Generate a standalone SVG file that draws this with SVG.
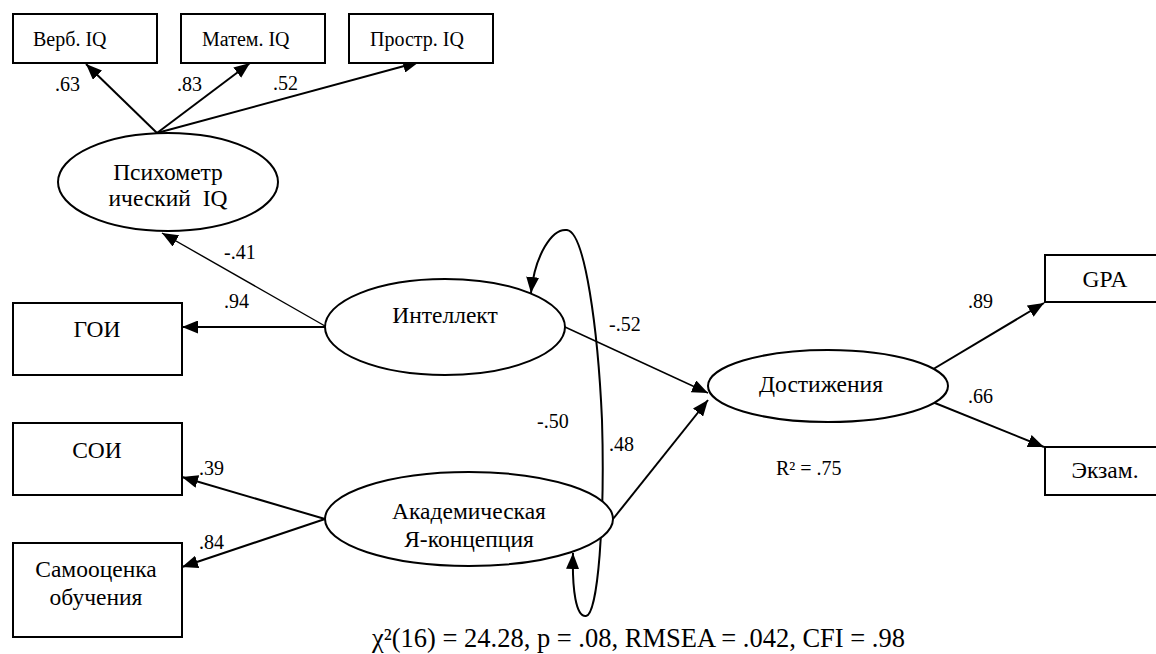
<svg xmlns="http://www.w3.org/2000/svg" width="1156" height="654" viewBox="0 0 1156 654" font-family="'Liberation Serif', 'Times New Roman', serif">
<style>
.box{fill:#fff;stroke:#000;stroke-width:2}
.ell{fill:#fff;stroke:#000;stroke-width:2}
.t{font-family:"Liberation Serif","Times New Roman",serif;fill:#000}
.s20{font-size:20px}
.s23{font-size:23.5px}
.lbl{font-family:"Liberation Serif","Times New Roman",serif;font-size:20px;fill:#000}
.ln{fill:none;stroke:#000;stroke-width:2}
.thin{fill:none;stroke:#000;stroke-width:1.4}
</style>
<defs>
<marker id="ah" markerUnits="userSpaceOnUse" markerWidth="16" markerHeight="13" refX="16" refY="6.5" orient="auto-start-reverse">
<path d="M0,0 L16,6.5 L0,13 z" fill="#000"/>
</marker>
</defs>
<g id="connectors">
<line class="ln" x1="157" y1="133" x2="86" y2="64" marker-end="url(#ah)"/>
<line class="ln" x1="157" y1="133" x2="250" y2="63" marker-end="url(#ah)"/>
<line class="ln" x1="157" y1="133" x2="419" y2="62" marker-end="url(#ah)"/>
<line class="thin" x1="325" y1="326" x2="162" y2="233" marker-end="url(#ah)"/>
<line class="ln" x1="325" y1="327" x2="182" y2="327" marker-end="url(#ah)"/>
<line class="ln" x1="325" y1="519" x2="182" y2="477" marker-end="url(#ah)"/>
<line class="ln" x1="325" y1="519" x2="182" y2="567" marker-end="url(#ah)"/>
<line class="thin" x1="565" y1="327" x2="708" y2="393" marker-end="url(#ah)"/>
<line class="ln" x1="613" y1="519" x2="708" y2="400" marker-end="url(#ah)"/>
<line class="ln" x1="925" y1="374" x2="1044" y2="303" marker-end="url(#ah)"/>
<line class="ln" x1="925" y1="399" x2="1044" y2="447" marker-end="url(#ah)"/>
<path class="ln" d="M531,293 C535,255 552,228 567,230 C585,232 598,330 602,420 C605,520 598,615 586,616 C576,617 572,590 573,553" marker-start="url(#ah)" marker-end="url(#ah)"/>
</g>
<g id="verb"><rect class="box" x="13" y="14" width="144" height="49"/><text class="t s20" x="33" y="46">Верб. IQ</text></g>
<g id="matem"><rect class="box" x="181" y="14" width="144" height="49"/><text class="t s20" x="202" y="46">Матем. IQ</text></g>
<g id="prostr"><rect class="box" x="349" y="14" width="144" height="49"/><text class="t s20" x="370" y="46">Простр. IQ</text></g>
<g id="psy"><ellipse class="ell" cx="168" cy="182" rx="110" ry="49"/><text class="t s23" text-anchor="middle" x="168" y="180">Психометр</text><text class="t s23" text-anchor="middle" x="168" y="206" xml:space="preserve">ический  IQ</text></g>
<g id="goi"><rect class="box" x="13" y="303" width="169" height="72"/><text class="t s23" text-anchor="middle" x="97" y="337">ГОИ</text></g>
<g id="soi"><rect class="box" x="13" y="423" width="169" height="72"/><text class="t s23" text-anchor="middle" x="97" y="458">СОИ</text></g>
<g id="samo"><rect class="box" x="13" y="543" width="169" height="94"/><text class="t s23" text-anchor="middle" x="96" y="577">Самооценка</text><text class="t s23" text-anchor="middle" x="96" y="605">обучения</text></g>
<g id="intel"><ellipse class="ell" cx="445" cy="327" rx="120" ry="48"/><text class="t s23" text-anchor="middle" x="445" y="323">Интеллект</text></g>
<g id="akad"><ellipse class="ell" cx="469" cy="519" rx="144" ry="47"/><text class="t s23" text-anchor="middle" x="469" y="519">Академическая</text><text class="t s23" text-anchor="middle" x="469" y="547">Я-концепция</text></g>
<g id="dost"><ellipse class="ell" cx="828" cy="386" rx="120" ry="36"/><text class="t s23" text-anchor="middle" x="821" y="392">Достижения</text></g>
<g id="gpa"><rect class="box" x="1045" y="255" width="130" height="47"/><text class="t s23" text-anchor="middle" x="1105" y="287">GPA</text></g>
<g id="exam"><rect class="box" x="1045" y="447" width="130" height="48"/><text class="t s23" text-anchor="middle" x="1105" y="478">Экзам.</text></g>
<g id="labels">
<text class="lbl" x="55" y="91">.63</text>
<text class="lbl" x="177" y="91">.83</text>
<text class="lbl" x="273" y="90">.52</text>
<text class="lbl" x="224" y="259">-.41</text>
<text class="lbl" x="224" y="308">.94</text>
<text class="lbl" x="609" y="331">-.52</text>
<text class="lbl" x="537" y="428">-.50</text>
<text class="lbl" x="609" y="451">.48</text>
<text class="lbl" x="199" y="475">.39</text>
<text class="lbl" x="199" y="549">.84</text>
<text class="lbl" x="968" y="308">.89</text>
<text class="lbl" x="968" y="403">.66</text>
<text class="lbl" x="776" y="475">R² = .75</text>
<text class="t" style="font-size:26.5px" x="372" y="647">χ²(16) = 24.28, p = .08, RMSEA = .042, CFI = .98</text>
</g>
</svg>
